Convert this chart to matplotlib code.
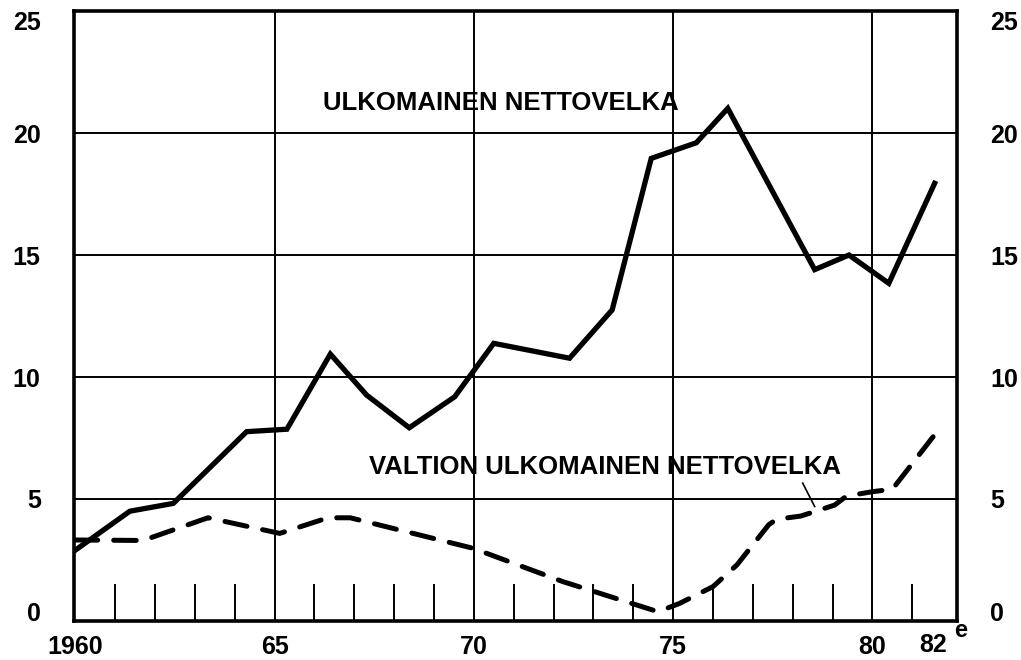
import numpy as np
import matplotlib.pyplot as plt
import matplotlib.transforms as mtransforms

# ulkomainen nettovelka (x in years)
total_x = [1960.0, 1961.37, 1962.46, 1964.3, 1965.31, 1966.4, 1967.31, 1968.38, 1969.52,
           1970.5, 1972.4, 1973.47, 1974.45, 1975.58, 1976.37, 1978.55, 1979.41, 1980.41, 1981.56]
total_y = [2.9, 4.5, 4.82, 7.76, 7.86, 10.94, 9.26, 7.92, 9.19,
           11.38, 10.77, 12.75, 18.96, 19.6, 21.01, 14.4, 15.0, 13.84, 17.94]

# valtion ulkomainen nettovelka
state_x = [1960.0, 1961.7, 1963.33, 1965.13, 1966.34, 1966.9, 1969.98, 1972.24, 1974.62, 1975.16,
           1976.0, 1976.6, 1977.4, 1977.6, 1978.2, 1979.05, 1979.35, 1980.0, 1980.5, 1981.52]
state_y = [3.32, 3.3, 4.23, 3.59, 4.23, 4.23, 2.98, 1.61, 0.38, 0.72,
           1.41, 2.3, 3.95, 4.17, 4.3, 4.75, 5.12, 5.3, 5.4, 7.55]

yticks = [0, 5, 10, 15, 20, 25]
xticks = [1960, 1965, 1970, 1975, 1980]
xticklabels = ['1960', '65', '70', '75', '80']
minor_years = [y for y in range(1961, 1982) if y % 5 != 0]

plt.rcParams['font.family'] = 'Liberation Sans'

fig = plt.figure(figsize=(10.21, 6.6), dpi=100)
ax = fig.add_axes([0.0725, 0.0591, 0.8648, 0.9242])

ax.plot(total_x, total_y, color='black', linewidth=3.8, solid_joinstyle='miter', zorder=3)
ax.plot(state_x, state_y, color='black', linewidth=3.6, dashes=(4.5, 3.2), dash_capstyle='round', zorder=3)

ax.set_xlim(1959.97, 1982.12)
ax.set_ylim(0, 25)

# ruudukko
for v in [5, 10, 15, 20]:
    ax.axhline(v, color='black', linewidth=1.4, zorder=1)
for v in [1965, 1970, 1975, 1980]:
    ax.axvline(v, color='black', linewidth=1.4, zorder=1)

for side in ['left', 'bottom', 'right', 'top']:
    ax.spines[side].set_linewidth(2.6)

ax.set_yticks(yticks)
ax.set_yticklabels([str(v) for v in yticks])
ax.tick_params(axis='y', length=0, labelsize=18, labelright=True, pad=24)
for t in ax.yaxis.get_major_ticks():
    t.label1.set_fontweight('bold')
    t.label2.set_fontweight('bold')
    t.label2.set_horizontalalignment('left')
ticks = ax.yaxis.get_major_ticks()
for lab in (ticks[0].label1, ticks[0].label2):
    lab.set_verticalalignment('baseline')
for lab in (ticks[-1].label1, ticks[-1].label2):
    lab.set_verticalalignment('top')

ax.set_xticks(xticks)
ax.set_xticklabels(xticklabels, fontsize=18, fontweight='bold')
ax.set_xticks(minor_years, minor=True)
ax.tick_params(axis='x', which='major', length=0, pad=10)
ax.tick_params(axis='x', which='minor', direction='in', length=27, width=1.4)

trans = mtransforms.blended_transform_factory(ax.transData, ax.transAxes)
ax.text(1981.51, -0.0205, '82', transform=trans, ha='center', va='top',
        fontsize=18, fontweight='bold')
ax.text(1982.2, 0.004, 'e', transform=trans, ha='center', va='top',
        fontsize=17, fontweight='bold')

ax.text(1970.69, 21.23, 'ULKOMAINEN NETTOVELKA', ha='center', va='center',
        fontsize=18.5, fontweight='bold')
ax.text(1973.3, 6.32, 'VALTION ULKOMAINEN NETTOVELKA', ha='center', va='center',
        fontsize=18.5, fontweight='bold')
ax.plot([1978.25, 1978.55], [5.65, 4.69], color='black', linewidth=1.2)

fig.savefig('out.png', dpi=100)
